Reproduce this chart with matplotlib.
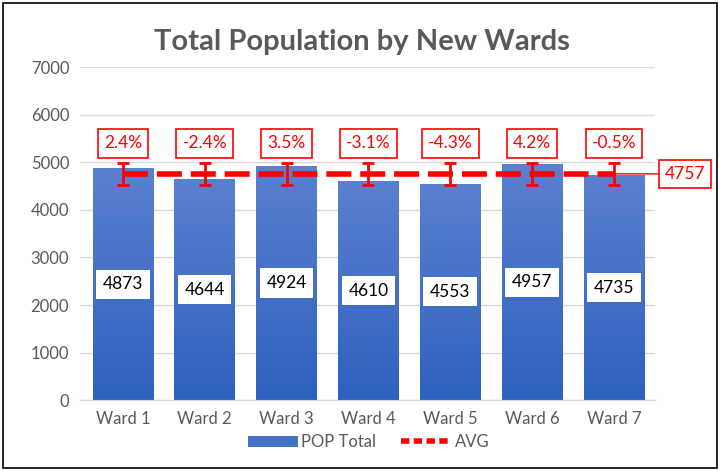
import matplotlib
matplotlib.use("Agg")
import matplotlib.pyplot as plt
import numpy as np
from matplotlib.lines import Line2D
from matplotlib.patches import Patch

plt.rcParams['font.family'] = ['Lato', 'DejaVu Sans']

wards = ["Ward 1", "Ward 2", "Ward 3", "Ward 4", "Ward 5", "Ward 6", "Ward 7"]
popTotal = [4873, 4644, 4924, 4610, 4553, 4957, 4735]
yTicks = [0, 1000, 2000, 3000, 4000, 5000, 6000, 7000]

avg = round(np.mean(popTotal))
pctDiff = [(v - avg) / avg * 100 for v in popTotal]
errSize = avg * 0.05

fig = plt.figure(figsize=(7.23, 4.73), dpi=100)
ax = fig.add_axes([0.111, 0.154, 0.795, 0.704])

x = np.arange(len(wards))
bars = ax.bar(x, popTotal, width=0.74, color="#4472c4", zorder=2)

# gradient fill on each bar
grad = np.linspace(0, 1, 256).reshape(-1, 1)
cmap = matplotlib.colors.LinearSegmentedColormap.from_list("g", ["#2e61bf", "#5b80cf"])
for b in bars:
    im = ax.imshow(grad, cmap=cmap, aspect="auto", origin="lower",
                   extent=[b.get_x(), b.get_x() + b.get_width(), 0, b.get_height()], zorder=2.1)
    im.set_clip_path(b)

ax.set_xlim(-0.52, 6.5)
ax.set_ylim(0, 7000)
ax.set_yticks(yTicks)
ax.set_xticks(x)
ax.set_xticklabels(wards)
ax.tick_params(axis="both", length=0, labelsize=12, colors="#595959", pad=8)
ax.yaxis.grid(True, color="#d9d9d9", linewidth=1, zorder=0)
for s in ["top", "right", "left"]:
    ax.spines[s].set_visible(False)
ax.spines["bottom"].set_color("#d9d9d9")

# average line with error bars
avgLine = [avg] * len(wards)
ax.plot(x, avgLine, color="red", linewidth=4, linestyle=(0, (4.5, 1.6)), zorder=4)
ax.errorbar(x, avgLine, yerr=errSize, fmt="none", ecolor="red", elinewidth=2,
            capsize=4, capthick=2, zorder=5)

for i, v in enumerate(popTotal):
    ax.text(x[i], v / 2, str(v), ha="center", va="center", fontsize=12.5, color="black",
            bbox=dict(boxstyle="square,pad=0.38", facecolor="white", edgecolor="none"), zorder=6)
    ax.annotate(f"{pctDiff[i]:.1f}%", (x[i], avg + errSize), xytext=(0, 8), textcoords="offset points",
                ha="center", va="bottom", fontsize=12.5, color="red",
                bbox=dict(boxstyle="square,pad=0.35", facecolor="white", edgecolor="red", linewidth=1.2),
                zorder=6)

# AVG label on the right
ax.annotate(str(avg), (x[-1], avg), xytext=(6.62, avg), textcoords="data",
            ha="left", va="center", fontsize=12.5, color="red", annotation_clip=False,
            bbox=dict(boxstyle="square,pad=0.35", facecolor="white", edgecolor="red", linewidth=1.2),
            arrowprops=dict(arrowstyle="-", color="red", linewidth=1, shrinkA=0, shrinkB=0), zorder=6)

fig.text(0.5, 0.912, "Total Population by New Wards", ha="center", va="center",
         fontsize=21, fontweight="bold", color="#595959")

handles = [Patch(facecolor="#4472c4", edgecolor="none"),
           Line2D([0], [0], color="red", linewidth=4, linestyle=(0, (1.5, 0.8)))]
fig.legend(handles, ["POP Total", "AVG"], loc="center", bbox_to_anchor=(0.51, 0.065), ncol=2,
           frameon=False, fontsize=12, labelcolor="#595959", handlelength=3.0, handletextpad=0.2,
           columnspacing=1.5)

border = matplotlib.patches.Rectangle((0.004, 0.01), 0.988, 0.983, transform=fig.transFigure,
                                      fill=False, edgecolor="black", linewidth=1.2)
fig.patches.append(border)

fig.savefig("out.png", dpi=100)
